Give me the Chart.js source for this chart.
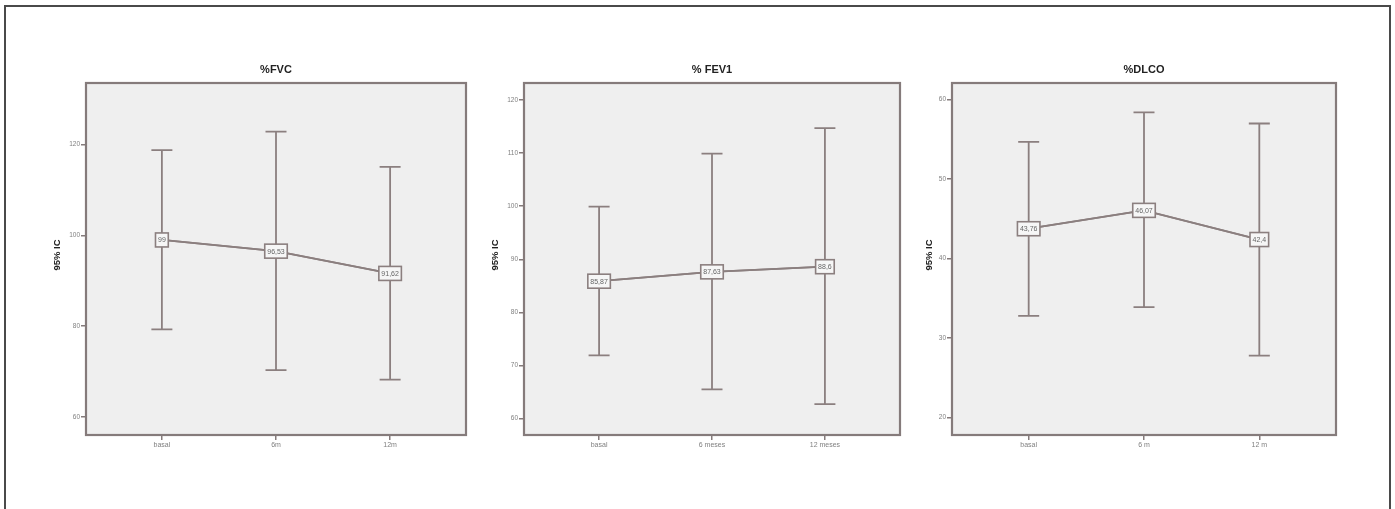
<!DOCTYPE html>
<html>
<head>
<meta charset="utf-8">
<script src="https://cdn.jsdelivr.net/npm/chart.js@4.4.1/dist/chart.umd.min.js"></script>
<style>
  html, body { margin: 0; padding: 0; background: #ffffff; }
  body { width: 1395px; height: 509px; position: relative; overflow: hidden; }
  #frame { position: absolute; left: 4px; top: 5px; width: 1387px; height: 520px;
           border: 2px solid #4a4a4a; box-sizing: border-box; }
  .panel { position: absolute; top: 50px; height: 420px; }
</style>
</head>
<body>
<div id="frame"></div>
<div class="panel" id="p1"><canvas id="c1"></canvas></div>
<div class="panel" id="p2"><canvas id="c2"></canvas></div>
<div class="panel" id="p3"><canvas id="c3"></canvas></div>
<script>
// ---------- DATA ----------
const fvcTitle = "%FVC";
const fvcCategories = ["basal", "6m", "12m"];
const fvcMeans = [99, 96.53, 91.62];
const fvcUpper = [118.8, 122.9, 115.1];
const fvcLower = [79.3, 70.3, 68.2];
const fvcTicks = [60, 80, 100, 120];
const fvcRange = [56, 133.6];

const fev1Title = "% FEV1";
const fev1Categories = ["basal", "6 meses", "12 meses"];
const fev1Means = [85.87, 87.63, 88.6];
const fev1Upper = [99.9, 109.9, 114.7];
const fev1Lower = [71.9, 65.5, 62.7];
const fev1Ticks = [60, 70, 80, 90, 100, 110, 120];
const fev1Range = [56.9, 123.2];

const dlcoTitle = "%DLCO";
const dlcoCategories = ["basal", "6 m", "12 m"];
const dlcoMeans = [43.76, 46.07, 42.4];
const dlcoUpper = [54.7, 58.4, 57.0];
const dlcoLower = [32.8, 33.9, 27.8];
const dlcoTicks = [20, 30, 40, 50, 60];
const dlcoRange = [17.8, 62.1];

const yAxisTitle = "95% IC";

// ---------- STYLE ----------
const LINE = "#8b7f7f";
const FRAME = "#857b7b";
const PLOTBG = "#efefef";
const TICKCOL = "#808080";
const FONT = "Arial, 'Liberation Sans', sans-serif";

function fmt(v) { return String(v).replace(".", ","); }

const errorPlugin = {
  id: "spssErr",
  beforeDraw(chart) {
    const a = chart.chartArea, ctx = chart.ctx;
    ctx.save();
    ctx.fillStyle = PLOTBG;
    ctx.fillRect(a.left, a.top, a.right - a.left, a.bottom - a.top);
    ctx.restore();
  },
  afterDraw(chart) {
    const o = chart.options.plugins.spssErr;
    const a = chart.chartArea, ctx = chart.ctx;
    const xs = chart.scales.x, ys = chart.scales.y;
    ctx.save();
    // frame
    ctx.strokeStyle = FRAME; ctx.lineWidth = 2.2;
    ctx.strokeRect(a.left, a.top, a.right - a.left, a.bottom - a.top);
    // error bars
    ctx.strokeStyle = LINE; ctx.lineWidth = 1.8;
    for (let i = 0; i < o.means.length; i++) {
      const x = xs.getPixelForValue(i);
      const yu = ys.getPixelForValue(o.upper[i]);
      const yl = ys.getPixelForValue(o.lower[i]);
      ctx.beginPath();
      ctx.moveTo(x, yu); ctx.lineTo(x, yl);
      ctx.moveTo(x - 10.5, yu); ctx.lineTo(x + 10.5, yu);
      ctx.moveTo(x - 10.5, yl); ctx.lineTo(x + 10.5, yl);
      ctx.stroke();
    }
    // line through means (redraw over bars)
    ctx.beginPath();
    for (let i = 0; i < o.means.length; i++) {
      const x = xs.getPixelForValue(i), y = ys.getPixelForValue(o.means[i]);
      if (i === 0) ctx.moveTo(x, y); else ctx.lineTo(x, y);
    }
    ctx.stroke();
    // mean label boxes
    ctx.font = "7px " + FONT;
    ctx.textAlign = "center"; ctx.textBaseline = "middle";
    for (let i = 0; i < o.means.length; i++) {
      const x = xs.getPixelForValue(i), y = ys.getPixelForValue(o.means[i]);
      const t = fmt(o.means[i]);
      const w = ctx.measureText(t).width + 5, h = 14;
      ctx.fillStyle = "#f6f6f6";
      ctx.fillRect(x - w / 2, y - h / 2, w, h);
      ctx.strokeStyle = LINE; ctx.lineWidth = 1.6;
      ctx.strokeRect(x - w / 2, y - h / 2, w, h);
      ctx.fillStyle = "#666";
      ctx.fillText(t, x, y + 0.5);
    }
    // title
    ctx.fillStyle = "#222";
    ctx.font = "bold 11px " + FONT;
    ctx.textAlign = "center"; ctx.textBaseline = "middle";
    ctx.fillText(o.title, (a.left + a.right) / 2, a.top - 13);
    // y axis title
    ctx.font = "bold 9.5px " + FONT;
    ctx.translate(a.left - o.yTitleOff, (a.top + a.bottom) / 2 - 4);
    ctx.rotate(-Math.PI / 2);
    ctx.fillText(yAxisTitle, 0, 0);
    ctx.restore();
  }
};

function makeChart(canvasId, divId, plotLeft, plotRight, title, cats, means, upper, lower, ticks, range, yTitleOff) {
  const padL = 16, yW = 30, padR = 14, padT = 33, xH = 25, padB = 10;
  const div = document.getElementById(divId);
  div.style.left = (plotLeft - padL - yW) + "px";
  div.style.width = (plotRight - plotLeft + padL + yW + padR) + "px";
  const pts = means.map((m, i) => ({ x: i, y: m }));
  return new Chart(document.getElementById(canvasId), {
    type: "line",
    data: { datasets: [{ data: pts, borderColor: LINE, borderWidth: 1.8, pointRadius: 0, fill: false, tension: 0 }] },
    options: {
      responsive: true, maintainAspectRatio: false, animation: false,
      layout: { padding: { left: padL, right: padR, top: padT, bottom: padB } },
      plugins: {
        legend: { display: false }, tooltip: { enabled: false }, title: { display: false },
        spssErr: { title, means, upper, lower, yTitleOff }
      },
      scales: {
        x: {
          type: "linear", min: -0.665, max: 2.665,
          afterBuildTicks: s => { s.ticks = cats.map((c, i) => ({ value: i })); },
          afterFit: s => { s.height = xH; },
          ticks: { callback: v => cats[v] ?? "", color: TICKCOL, font: { size: 7, family: FONT }, padding: 1, maxRotation: 0, autoSkip: false },
          grid: { drawOnChartArea: false, drawTicks: true, tickLength: 5, color: FRAME, lineWidth: 1.5 },
          border: { display: false }
        },
        y: {
          type: "linear", min: range[0], max: range[1],
          afterBuildTicks: s => { s.ticks = ticks.map(v => ({ value: v })); },
          afterFit: s => { s.width = yW; },
          ticks: { color: TICKCOL, font: { size: 6.5, family: FONT }, padding: 1 },
          grid: { drawOnChartArea: false, drawTicks: true, tickLength: 5, color: FRAME, lineWidth: 1.5 },
          border: { display: false }
        }
      }
    },
    plugins: [errorPlugin]
  });
}

makeChart("c1", "p1", 86, 466, fvcTitle, fvcCategories, fvcMeans, fvcUpper, fvcLower, fvcTicks, fvcRange, 29);
makeChart("c2", "p2", 524, 900, fev1Title, fev1Categories, fev1Means, fev1Upper, fev1Lower, fev1Ticks, fev1Range, 29);
makeChart("c3", "p3", 952, 1336, dlcoTitle, dlcoCategories, dlcoMeans, dlcoUpper, dlcoLower, dlcoTicks, dlcoRange, 23);
</script>
</body>
</html>
